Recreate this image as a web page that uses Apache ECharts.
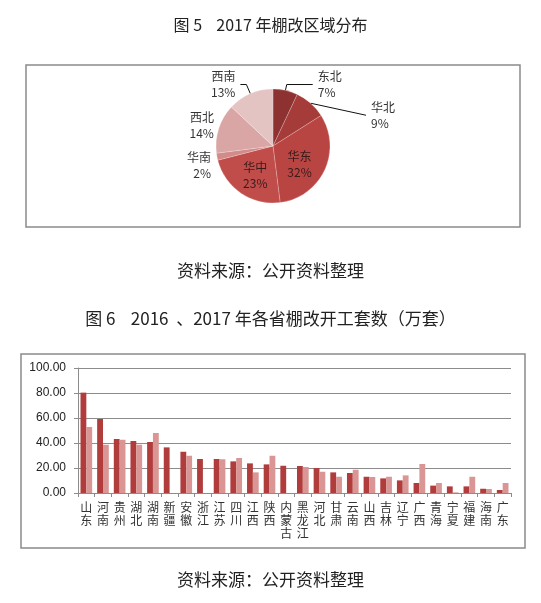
<!DOCTYPE html>
<html>
<head>
<meta charset="utf-8">
<script src="https://cdn.jsdelivr.net/npm/echarts@6/dist/echarts.min.js"></script>
<style>
  html, body { margin: 0; padding: 0; background: #fff; }
  #main { width: 541px; height: 603px; }
</style>
</head>
<body>
<div id="main"></div>
<script>
// 图5 2017 年棚改区域分布（%）
var regions = ['东北', '华北', '华东', '华中', '华南', '西北', '西南'];
var regionShare = [7, 9, 32, 23, 2, 14, 13];

// 图6 2016、2017 年各省棚改开工套数（万套）
var provinces = ['山东', '河南', '贵州', '湖北', '湖南', '新疆', '安徽', '浙江', '江苏', '四川',
  '江西', '陕西', '内蒙古', '黑龙江', '河北', '甘肃', '云南', '山西', '吉林', '辽宁',
  '广西', '青海', '宁夏', '福建', '海南', '广东'];
var starts2016 = [80.3, 59.2, 43.2, 41.6, 40.8, 36.5, 33.0, 27.2, 27.2, 25.3,
  23.7, 22.9, 21.8, 21.6, 20.0, 16.5, 16.0, 13.0, 11.7, 10.1,
  8.0, 5.9, 5.3, 5.3, 3.4, 2.4];
var starts2017 = [52.8, 38.6, 42.6, 38.6, 48.0, 0, 29.8, 0, 27.0, 28.0,
  16.5, 29.8, 0, 20.8, 17.0, 13.0, 18.6, 12.8, 13.0, 14.1,
  23.2, 8.0, 0.5, 13.0, 3.2, 8.0];
var yTicks = [0, 20, 40, 60, 80, 100];

var CJK = '"Noto Sans CJK SC", sans-serif';
var LATIN = '"Liberation Sans", Arial, sans-serif';

var pieColors = ['#8e3131', '#a53c3a', '#b94543', '#c04d4a', '#d28b89', '#d9a6a5', '#e4c4c3'];
var insideLabel = { '华东': true, '华中': true };
var lineSetting = {
  '东北': { show: true, length: 6, length2: 26 },
  '华北': { show: true, length: 8, length2: 46 },
  '西南': { show: true, length: 10, length2: 6 },
  '西北': { show: false, length: 2, length2: 2 },
  '华南': { show: false, length: 2, length2: 4 }
};
// small nudges of label boxes (px), like the hand-placed labels of the original
var labelNudge = {
  '华北': [4, 18],
  '华东': [-2, 5],
  '华中': [0, 3],
  '西北': [4, -2],
  '华南': [5, 8]
};

var pieData = regions.map(function (name, i) {
  var item = { name: name, value: regionShare[i], itemStyle: { color: pieColors[i] } };
  if (insideLabel[name]) {
    item.label = { position: 'inside', color: '#3a1a1a' };
  } else {
    item.labelLine = lineSetting[name];
  }
  return item;
});

var myChart = echarts.init(document.getElementById('main'));

var titleStyle = { fontSize: 16, fontWeight: 'normal', color: '#222', fontFamily: CJK };
var sourceStyle = { fontSize: 17, fontWeight: 'normal', color: '#222', fontFamily: CJK };

var option = {
  animation: false,
  title: [
    { text: '图 5    2017 年棚改区域分布', left: 'center', top: 17, padding: 0, textStyle: titleStyle },
    { text: '资料来源：公开资料整理', left: 'center', top: 262, padding: 0, textStyle: sourceStyle },
    { text: '图 6    2016  、2017 年各省棚改开工套数（万套）', left: 'center', top: 310, padding: 0, textStyle: sourceStyle },
    { text: '资料来源：公开资料整理', left: 'center', top: 571, padding: 0, textStyle: sourceStyle }
  ],
  graphic: [
    { type: 'rect', shape: { x: 26, y: 65, width: 494, height: 162 },
      style: { fill: 'none', stroke: '#8a8a8a', lineWidth: 1.5 }, silent: true },
    { type: 'rect', shape: { x: 21, y: 354, width: 504, height: 194 },
      style: { fill: 'none', stroke: '#8a8a8a', lineWidth: 1.5 }, silent: true }
  ],
  grid: { left: 78, right: 30, top: 368, bottom: 110 },
  xAxis: {
    type: 'category',
    data: provinces,
    axisLine: { lineStyle: { color: '#8c8c8c', width: 1 } },
    axisTick: { show: true, length: 4, lineStyle: { color: '#8c8c8c' } },
    axisLabel: {
      interval: 0,
      margin: 8,
      fontSize: 12,
      lineHeight: 13,
      color: '#333',
      fontFamily: CJK,
      formatter: function (v) { return v.split('').join('\n'); }
    }
  },
  yAxis: {
    type: 'value',
    min: yTicks[0],
    max: yTicks[yTicks.length - 1],
    interval: yTicks[1] - yTicks[0],
    axisLine: { show: true, lineStyle: { color: '#8c8c8c', width: 1 } },
    axisTick: { show: true, length: 4, lineStyle: { color: '#8c8c8c' } },
    splitLine: { lineStyle: { color: '#8c8c8c', width: 1 } },
    axisLabel: {
      margin: 12,
      fontSize: 12,
      color: '#222',
      fontFamily: LATIN,
      formatter: function (v) { return v.toFixed(2); }
    }
  },
  series: [
    {
      name: '2016',
      type: 'bar',
      data: starts2016,
      barGap: '0%',
      barCategoryGap: '30%',
      itemStyle: { color: '#b03c3c' }
    },
    {
      name: '2017',
      type: 'bar',
      data: starts2017,
      itemStyle: { color: '#d99694' }
    },
    {
      name: '区域分布',
      type: 'pie',
      center: [273, 146],
      radius: 57,
      startAngle: 90,
      clockwise: true,
      avoidLabelOverlap: false,
      data: pieData,
      itemStyle: { borderColor: 'rgba(255,255,255,0.35)', borderWidth: 0.6 },
      label: {
        formatter: '{b}\n{c}%',
        fontSize: 12,
        lineHeight: 16,
        color: '#333',
        fontFamily: CJK
      },
      labelLine: {
        lineStyle: { color: '#111', width: 1 }
      },
      labelLayout: function (params) {
        var name = regions[params.dataIndex];
        var n = labelNudge[name] || [0, 0];
        var out = { hideOverlap: false, moveOverlap: null, dx: n[0], dy: n[1] };
        var pts = params.labelLinePoints;
        if (pts && pts.length === 3 && (n[0] || n[1])) {
          // keep the leader line attached to the moved label
          var p0 = pts[0];
          var p2 = [pts[2][0] + n[0], pts[2][1] + n[1]];
          var p1 = [p0[0] + (p2[0] - p0[0]) * 0.15, p0[1] + (p2[1] - p0[1]) * 0.15];
          out.labelLinePoints = [p0, p1, p2];
        }
        return out;
      }
    }
  ]
};

myChart.setOption(option);
</script>
</body>
</html>
